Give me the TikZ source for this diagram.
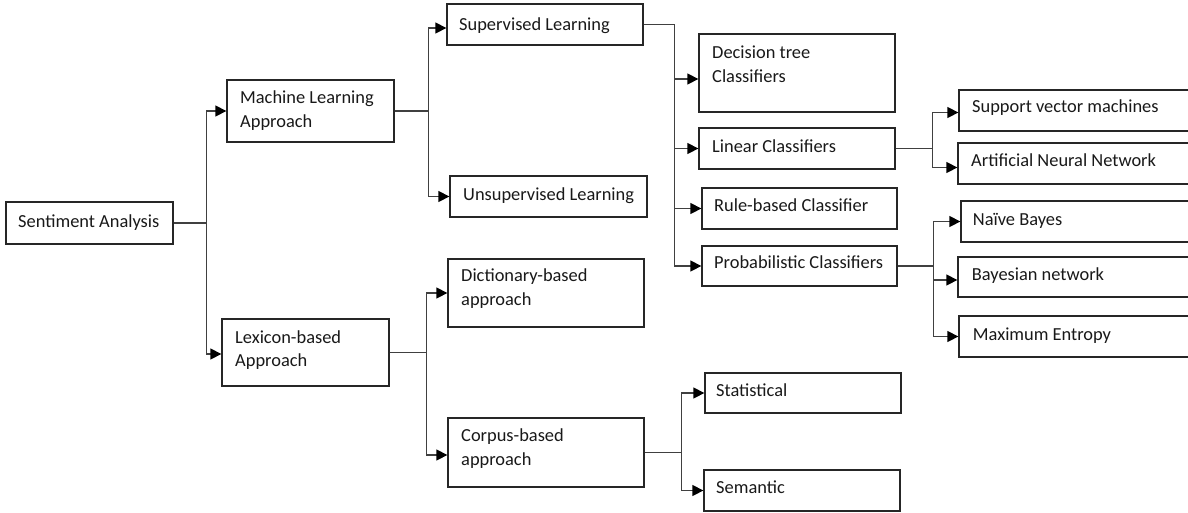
\documentclass[tikz,border=0pt]{standalone}
\usepackage{fontspec}
\setmainfont{Carlito}
\usetikzlibrary{fit,arrows.meta}
\begin{document}
\begin{tikzpicture}[x=1pt,y=-1pt,
  bx/.style={draw=black!85, line width=1.3pt, inner sep=0pt},
  tx/.style={anchor=base west, inner sep=0pt, text=black!90, font=\fontsize{18.4}{22}\selectfont},
  ln/.style={draw=black!75, line width=1.3pt},
  ar/.style={ln, -{Triangle[length=11pt,width=11pt,color=black]}}]
\useasboundingbox (0,0) rectangle (1188,512);
\clip (0,0) rectangle (1188,512);
\fill[white] (0,0) rectangle (1188,512);
% boxes
\node[bx, fit={(6,202)(173,244)}] (sa) {};
\node[bx, fit={(227,80)(394,142)}] (ml) {};
\node[bx, fit={(222,319)(389,386)}] (lx) {};
\node[bx, fit={(447,4)(643,45)}] (sl) {};
\node[bx, fit={(450,176)(647,217)}] (ul) {};
\node[bx, fit={(448,259)(644,327)}] (db) {};
\node[bx, fit={(448,418)(644,487)}] (cb) {};
\node[bx, fit={(699,34)(895,112)}] (dt) {};
\node[bx, fit={(699,128)(895,169)}] (lc) {};
\node[bx, fit={(702,188)(897,229)}] (rb) {};
\node[bx, fit={(702,246)(897,286)}] (pc) {};
\node[bx, fit={(959,90)(1195,131)}] (svm) {};
\node[bx, fit={(958,143)(1195,184)}] (ann) {};
\node[bx, fit={(961,201)(1195,242)}] (nb) {};
\node[bx, fit={(958,257)(1195,297)}] (bn) {};
\node[bx, fit={(959,316)(1195,357)}] (me) {};
\node[bx, fit={(705,373)(901,413)}] (st) {};
\node[bx, fit={(704,470)(900,511)}] (se) {};
% texts
\node[tx] (sa-t) at (18,227) {Sentiment Analysis};
\node[tx] (ml-t1) at (240,103.3) {Machine Learning};
\node[tx] (ml-t2) at (240,127.3) {Approach};
\node[tx] (lx-t1) at (235,343.3) {Lexicon-based};
\node[tx] (lx-t2) at (235,366.7) {Approach};
\node[tx] (sl-t) at (459,30) {Supervised Learning};
\node[tx] (ul-t) at (463,200) {Unsupervised Learning};
\node[tx] (db-t1) at (461,281.7) {Dictionary-based};
\node[tx] (db-t2) at (461,305) {approach};
\node[tx] (cb-t1) at (461,441.7) {Corpus-based};
\node[tx] (cb-t2) at (461,465) {approach};
\node[tx] (dt-t1) at (712,58.3) {Decision tree};
\node[tx] (dt-t2) at (712,82.7) {Classifiers};
\node[tx] (lc-t) at (712,152.3) {Linear Classifiers};
\node[tx] (rb-t) at (714,211.7) {Rule-based Classifier};
\node[tx] (pc-t) at (714,268.3) {Probabilistic Classifiers};
\node[tx] (svm-t) at (972,112.7) {Support vector machines};
\node[tx] (ann-t) at (971,166) {Artificial Neural Network};
\node[tx] (nb-t) at (972.7,225.7) {Naïve Bayes};
\node[tx] (bn-t) at (971.7,280) {Bayesian network};
\node[tx] (me-t) at (972.7,340) {Maximum Entropy};
\node[tx] (st-t) at (716,396.7) {Statistical};
\node[tx] (se-t) at (716,493.3) {Semantic};
% connectors
\draw[ar] (sa.east) -- ++(33,0) |- (ml.west);
\draw[ar] (sa.east) -- ++(33,0) |- ([yshift=-1.5pt]lx.west);
\draw[ar] (ml.east) -- ++(34,0) |- ([yshift=-3.5pt]sl.west);
\draw[ar] (ml.east) -- ++(34,0) |- (ul.west);
\draw[ar] (lx.east) -- ++(37,0) |- (db.west);
\draw[ar] (lx.east) -- ++(37,0) |- ([yshift=-2.5pt]cb.west);
\draw[ar] (sl.east) -- ++(31,0) |- ([yshift=-6pt]dt.west);
\draw[ar] (sl.east) -- ++(31,0) |- (lc.west);
\draw[ar] (sl.east) -- ++(31,0) |- (rb.west);
\draw[ar] (sl.east) -- ++(31,0) |- (pc.west);
\draw[ar] (lc.east) -- ++(37,0) |- ([yshift=-2pt]svm.west);
\draw[ar] (lc.east) -- ++(37,0) |- ([yshift=-4pt]ann.west);
\draw[ar] (pc.east) -- ++(36,0) |- (nb.west);
\draw[ar] (pc.east) -- ++(36,0) |- ([yshift=-3pt]bn.west);
\draw[ar] (pc.east) -- ++(36,0) |- (me.west);
\draw[ar] (cb.east) -- ++(37,0) |- (st.west);
\draw[ar] (cb.east) -- ++(37,0) |- (se.west);
\end{tikzpicture}
\end{document}
